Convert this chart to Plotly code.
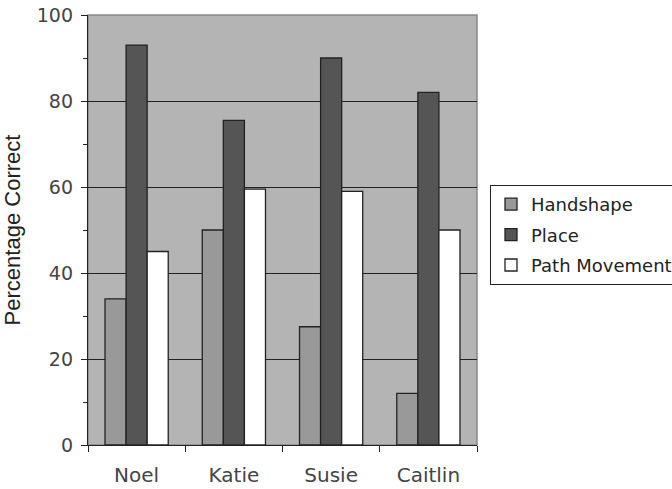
import plotly.graph_objects as go

# Percentage of signs correct per child, by sign parameter
children = ["Noel", "Katie", "Susie", "Caitlin"]
handshape = [34, 50, 27.5, 12]
place = [93, 75.5, 90, 82]
path_movement = [45, 59.5, 59, 50]

series = [
    ("Handshape", handshape, "#999999"),
    ("Place", place, "#555555"),
    ("Path Movement", path_movement, "#ffffff"),
]

fig = go.Figure()
for name, vals, color in series:
    fig.add_trace(go.Bar(
        name=name, x=children, y=vals, legendgroup=name,
        marker=dict(color=color, line=dict(color="#222222", width=1.3)),
    ))

tick_font = dict(family="DejaVu Sans", size=19, color="#444444")
cat_font = dict(family="DejaVu Sans", size=20, color="#444444")
title_font = dict(family="Liberation Sans", size=22, color="#222222")

fig.update_layout(
    width=672, height=489,
    margin=dict(l=88, r=195, t=15, b=44, autoexpand=False),
    paper_bgcolor="white",
    plot_bgcolor="#b4b4b4",
    barmode="group",
    bargap=0.35,
    bargroupgap=0,
    font=tick_font,
    showlegend=True,
    legend=dict(
        x=(490 - 88) / 389, y=(445 - 185) / 430, xanchor="left", yanchor="top",
        bgcolor="white", bordercolor="#222222", borderwidth=1,
        font=dict(family="DejaVu Sans", size=18, color="#222222"),
        tracegroupgap=4, itemwidth=30,
    ),
    shapes=[dict(
        type="rect", xref="paper", yref="paper", x0=0, y0=0, x1=1, y1=1,
        line=dict(color="#888888", width=1.5), layer="below",
    )],
)

fig.update_xaxes(
    showline=True, linecolor="#222222", linewidth=1.3,
    ticks="outside", tickson="boundaries", ticklen=6, tickcolor="#222222",
    showgrid=False, tickfont=cat_font, automargin=False, ticklabelstandoff=12,
)
fig.update_yaxes(
    range=[0, 100], dtick=20,
    showline=True, linecolor="#222222", linewidth=1.3,
    ticks="outside", ticklen=6, tickcolor="#222222",
    minor=dict(dtick=10, ticks="outside", ticklen=4, tickcolor="#222222", showgrid=False),
    showgrid=True, gridcolor="#222222", gridwidth=1,
    zeroline=False, tickfont=tick_font, automargin=False, ticklabelstandoff=4,
    title=dict(text="Percentage Correct", font=title_font, standoff=18),
)

fig.write_html("out.html")
